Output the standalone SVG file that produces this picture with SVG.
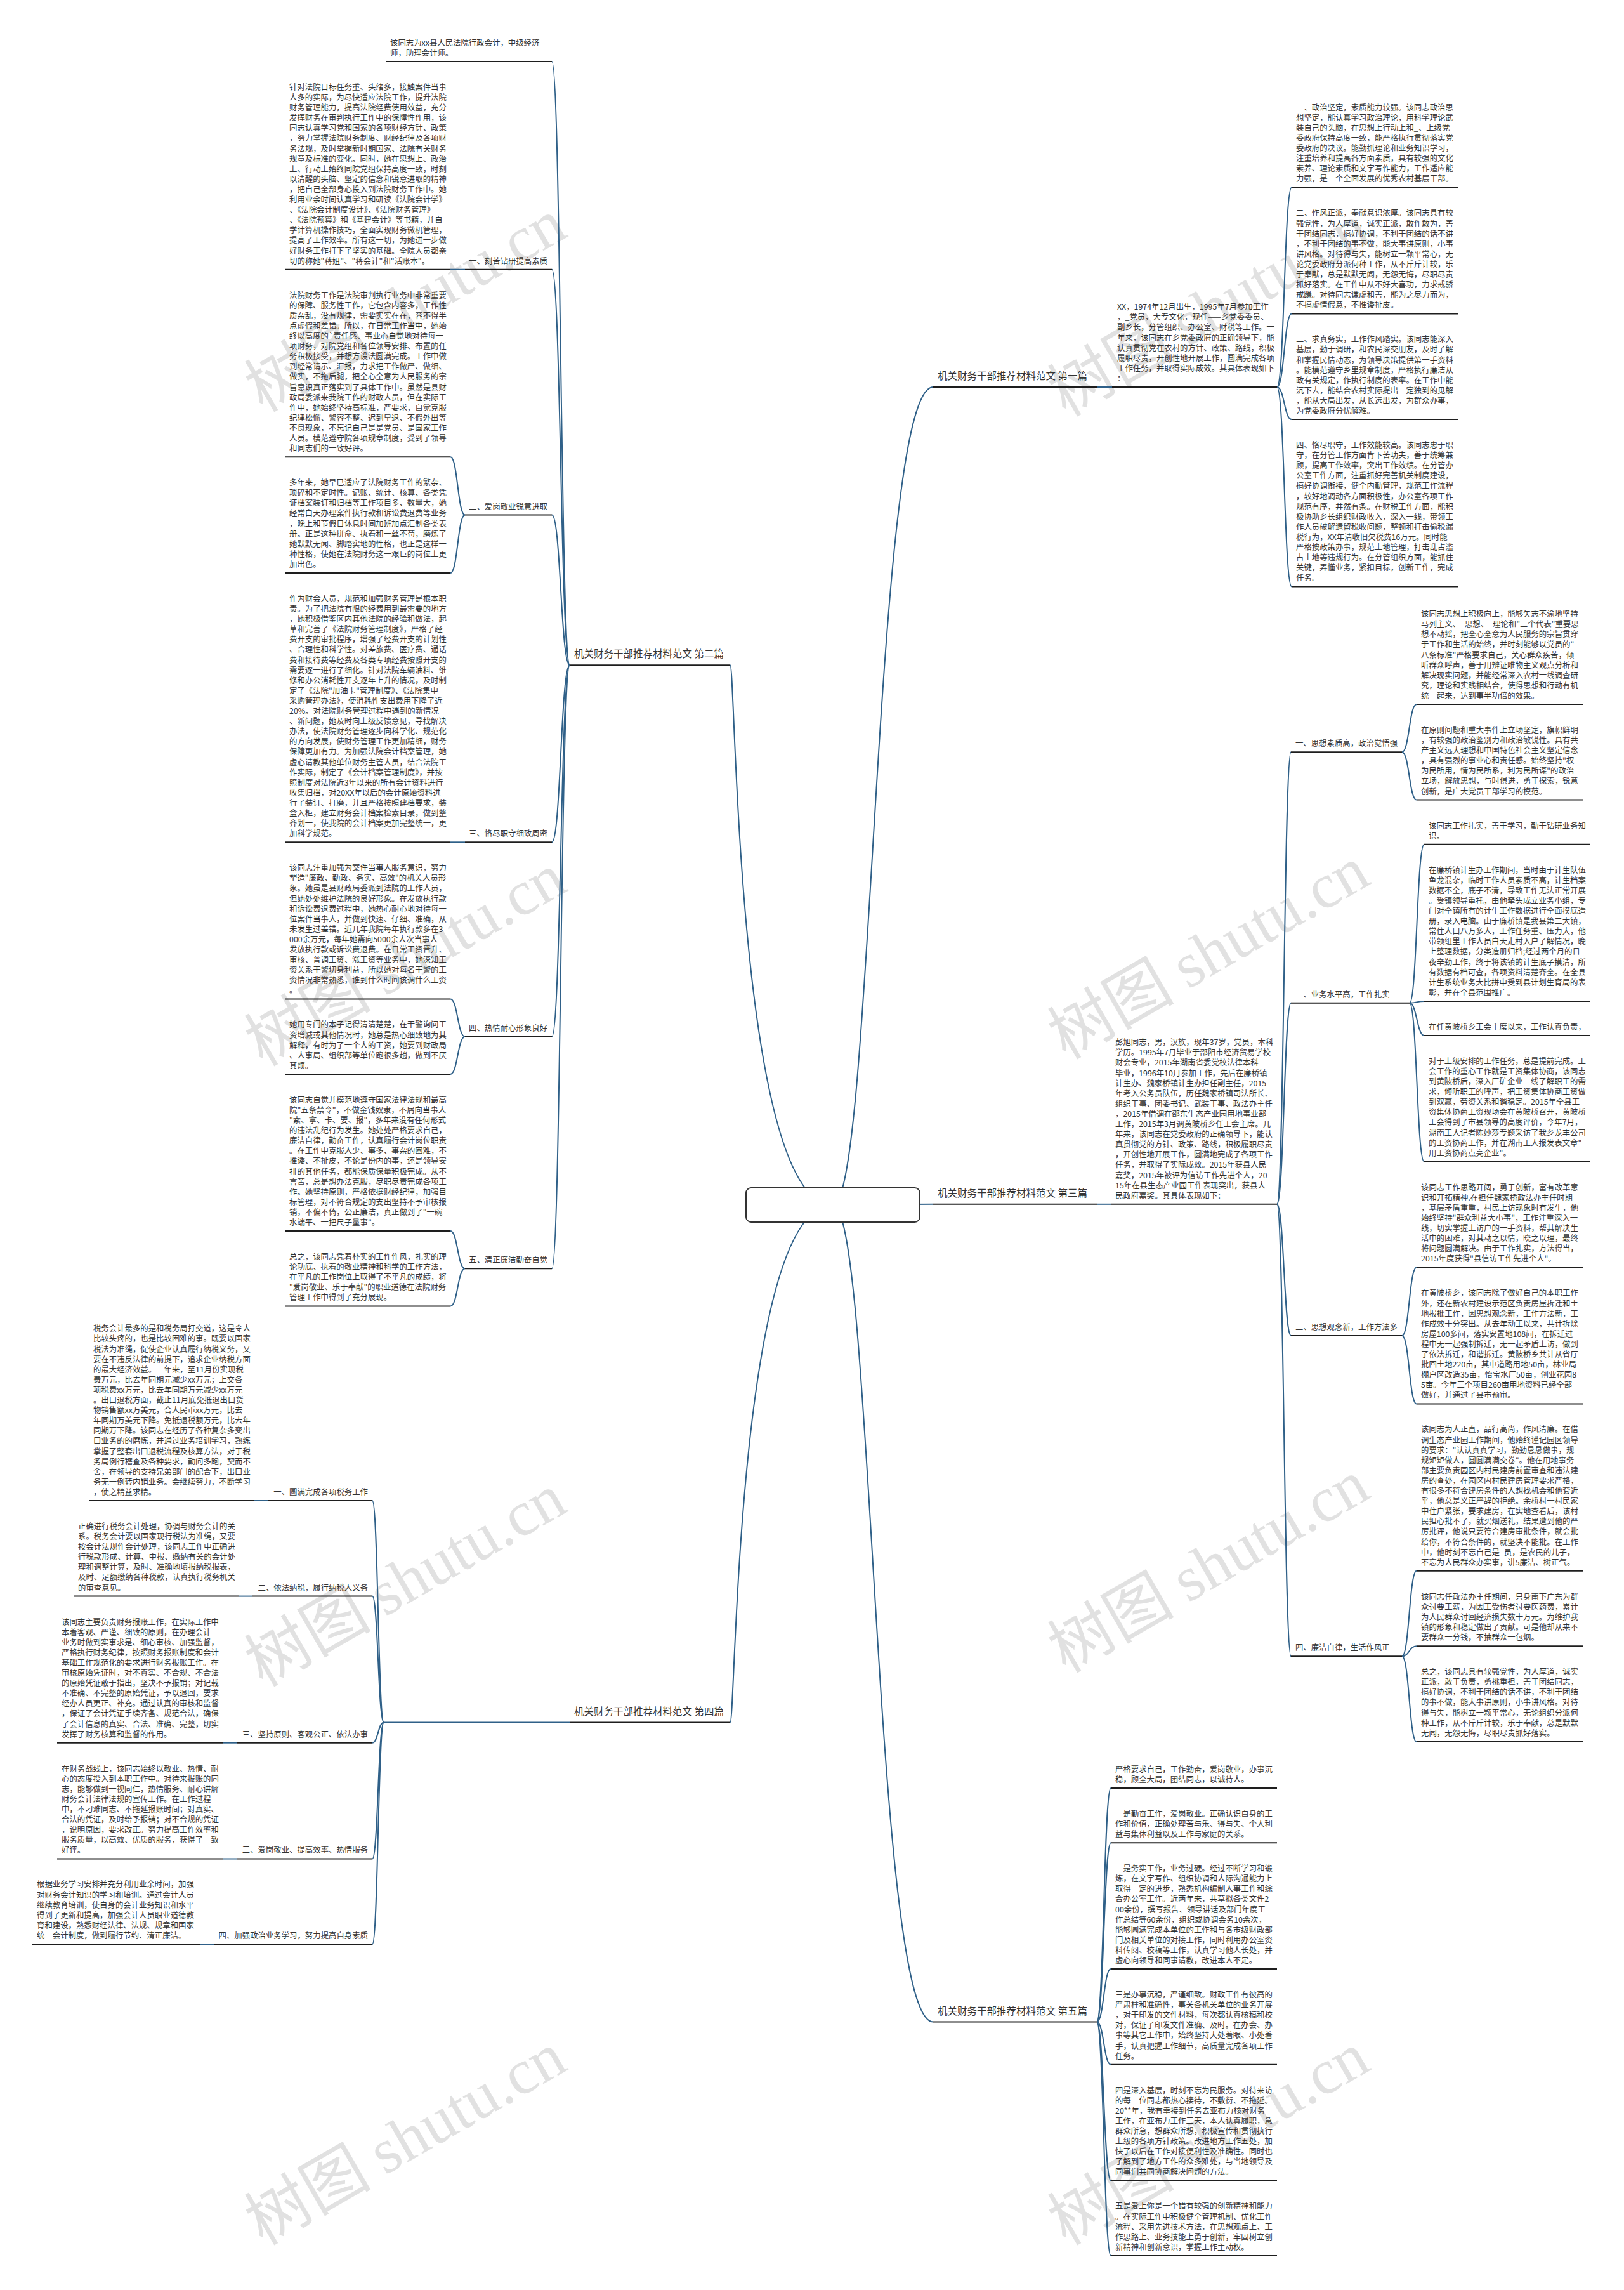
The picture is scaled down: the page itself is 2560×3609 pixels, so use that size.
<svg xmlns="http://www.w3.org/2000/svg" width="2560" height="3609" viewBox="0 0 2560 3609">
<style>
.t{font-family:"Noto Sans CJK SC","Noto Sans",sans-serif;font-size:12.4px;fill:#333}
.ti{font-family:"Noto Sans CJK SC","Noto Sans",sans-serif;font-size:15.5px;fill:#333}
.ul{stroke:#1e1e1e;stroke-width:2;fill:none}
.cn{stroke:#2f6088;stroke-width:2;fill:none}
.wm{font-family:"Noto Sans CJK SC",sans-serif;font-size:100px;fill:#c4c4c4;opacity:.5}
.wm2{font-family:"Liberation Serif",serif}
</style>
<rect width="2560" height="3609" fill="#fff"/>
<g id="watermarks">
<text class="wm" transform="translate(656 511) rotate(-30)" text-anchor="middle">树图 <tspan class="wm2">shutu.cn</tspan></text>
<text class="wm" transform="translate(1922 518) rotate(-30)" text-anchor="middle">树图 <tspan class="wm2">shutu.cn</tspan></text>
<text class="wm" transform="translate(656 1542) rotate(-30)" text-anchor="middle">树图 <tspan class="wm2">shutu.cn</tspan></text>
<text class="wm" transform="translate(1922 1531) rotate(-30)" text-anchor="middle">树图 <tspan class="wm2">shutu.cn</tspan></text>
<text class="wm" transform="translate(656 2520) rotate(-30)" text-anchor="middle">树图 <tspan class="wm2">shutu.cn</tspan></text>
<text class="wm" transform="translate(1922 2498) rotate(-30)" text-anchor="middle">树图 <tspan class="wm2">shutu.cn</tspan></text>
<text class="wm" transform="translate(656 3400) rotate(-30)" text-anchor="middle">树图 <tspan class="wm2">shutu.cn</tspan></text>
<text class="wm" transform="translate(1922 3400) rotate(-30)" text-anchor="middle">树图 <tspan class="wm2">shutu.cn</tspan></text>
</g>
<g id="connectors">
<path class="cn" d="M1313 1899 C1160 1899 1160 1048.2 1151 1048.2"/>
<path class="cn" d="M1313 1899 C1160 1899 1160 2714.5 1151 2714.5"/>
<path class="cn" d="M1313 1899 C1377 1899 1377 610 1471 610"/>
<path class="cn" d="M1313 1899 C1392 1899 1392 1897.8 1471 1897.8"/>
<path class="cn" d="M1313 1899 C1377 1899 1377 3186.5 1471 3186.5"/>
<path class="cn" d="M898 1048.2 C884 1048.2 884 97 870 97"/>
<path class="cn" d="M898 1048.2 C884 1048.2 884 424.7 870 424.7"/>
<path class="cn" d="M898 1048.2 C884 1048.2 884 811.6 870 811.6"/>
<path class="cn" d="M898 1048.2 C884 1048.2 884 1327.3 870 1327.3"/>
<path class="cn" d="M898 1048.2 C884 1048.2 884 1633.7 870 1633.7"/>
<path class="cn" d="M898 1048.2 C884 1048.2 884 1999.3 870 1999.3"/>
<path class="cn" d="M733 424.7 L710 424.7"/>
<path class="cn" d="M733 811.6 C721.5 811.6 721.5 720.2 710 720.2"/>
<path class="cn" d="M733 811.6 C721.5 811.6 721.5 903 710 903"/>
<path class="cn" d="M733 1327.3 L710 1327.3"/>
<path class="cn" d="M733 1633.7 C721.5 1633.7 721.5 1574.5 710 1574.5"/>
<path class="cn" d="M733 1633.7 C721.5 1633.7 721.5 1692.9 710 1692.9"/>
<path class="cn" d="M733 1999.3 C721.5 1999.3 721.5 1940.1 710 1940.1"/>
<path class="cn" d="M733 1999.3 C721.5 1999.3 721.5 2058.5 710 2058.5"/>
<path class="cn" d="M898 2714.5 L605 2714.5"/>
<path class="cn" d="M605 2714.5 C596 2714.5 596 2365 587 2365"/>
<path class="cn" d="M605 2714.5 C596 2714.5 596 2515.6 587 2515.6"/>
<path class="cn" d="M605 2714.5 C596 2714.5 596 2746.7 587 2746.7"/>
<path class="cn" d="M605 2714.5 C596 2714.5 596 2929.5 587 2929.5"/>
<path class="cn" d="M605 2714.5 C596 2714.5 596 3064 587 3064"/>
<path class="cn" d="M423 2365 L400 2365"/>
<path class="cn" d="M398 2515.6 L377 2515.6"/>
<path class="cn" d="M373 2746.7 L352 2746.7"/>
<path class="cn" d="M373 2929.5 L352 2929.5"/>
<path class="cn" d="M337 3064 L315 3064"/>
<path class="cn" d="M1729 610 L1753 610"/>
<path class="cn" d="M2013 610 C2024.5 610 2024.5 295.5 2036 295.5"/>
<path class="cn" d="M2013 610 C2024.5 610 2024.5 494.4 2036 494.4"/>
<path class="cn" d="M2013 610 C2024.5 610 2024.5 661.1 2036 661.1"/>
<path class="cn" d="M2013 610 C2024.5 610 2024.5 924.4 2036 924.4"/>
<path class="cn" d="M1729 1897.8 L1751 1897.8"/>
<path class="cn" d="M2013 1897.8 C2024 1897.8 2024 1185.3 2035 1185.3"/>
<path class="cn" d="M2013 1897.8 C2024 1897.8 2024 1580.8 2035 1580.8"/>
<path class="cn" d="M2013 1897.8 C2024 1897.8 2024 2105 2035 2105"/>
<path class="cn" d="M2013 1897.8 C2024 1897.8 2024 2610.3 2035 2610.3"/>
<path class="cn" d="M2210 1185.3 C2221.5 1185.3 2221.5 1110 2233 1110"/>
<path class="cn" d="M2210 1185.3 C2221.5 1185.3 2221.5 1260.6 2233 1260.6"/>
<path class="cn" d="M2222 1580.8 C2233.5 1580.8 2233.5 1330.7 2245 1330.7"/>
<path class="cn" d="M2222 1580.8 C2233.5 1580.8 2233.5 1577.9 2245 1577.9"/>
<path class="cn" d="M2222 1580.8 C2233.5 1580.8 2233.5 1631.9 2245 1631.9"/>
<path class="cn" d="M2222 1580.8 C2233.5 1580.8 2233.5 1830.8 2245 1830.8"/>
<path class="cn" d="M2210 2105 C2221.5 2105 2221.5 1997.5 2233 1997.5"/>
<path class="cn" d="M2210 2105 C2221.5 2105 2221.5 2212.5 2233 2212.5"/>
<path class="cn" d="M2210 2610.3 C2221.5 2610.3 2221.5 2475.8 2233 2475.8"/>
<path class="cn" d="M2210 2610.3 C2221.5 2610.3 2221.5 2594.2 2233 2594.2"/>
<path class="cn" d="M2210 2610.3 C2221.5 2610.3 2221.5 2744.8 2233 2744.8"/>
<path class="cn" d="M1729 3186.5 C1740 3186.5 1740 2818 1751 2818"/>
<path class="cn" d="M1729 3186.5 C1740 3186.5 1740 2904.2 1751 2904.2"/>
<path class="cn" d="M1729 3186.5 C1740 3186.5 1740 3103.1 1751 3103.1"/>
<path class="cn" d="M1729 3186.5 C1740 3186.5 1740 3253.7 1751 3253.7"/>
<path class="cn" d="M1729 3186.5 C1740 3186.5 1740 3436.5 1751 3436.5"/>
<path class="cn" d="M1729 3186.5 C1740 3186.5 1740 3554.9 1751 3554.9"/>
</g>
<g id="root">
<rect x="1176" y="1872" width="274" height="54" rx="8" fill="#fff" stroke="#333" stroke-width="2"/>
</g>
<g id="t2">
<text class="ti" x="905" y="1036">机关财务干部推荐材料范文 第二篇</text>
<line class="ul" x1="898" y1="1048.2" x2="1151" y2="1048.2"/>
</g>
<g id="t2-top">
<text class="t" x="615" y="71.8"><tspan x="615">该同志为xx县人民法院行政会计，中级经济</tspan><tspan x="615" dy="16.1">师，助理会计师。</tspan></text>
<line class="ul" x1="608" y1="97" x2="870" y2="97"/>
</g>
<g id="t2-l1">
<text class="t" x="863" y="415.6" text-anchor="end">一、刻苦钻研提高素质</text>
<line class="ul" x1="733" y1="424.7" x2="870" y2="424.7"/>
</g>
<g id="t2-a">
<text class="t" x="456" y="141.9"><tspan x="456">针对法院目标任务重、头绪多，接触案件当事</tspan><tspan x="456" dy="16.1">人多的实际，为尽快适应法院工作，提升法院</tspan><tspan x="456" dy="16.1">财务管理能力，提高法院经费使用效益，充分</tspan><tspan x="456" dy="16.1">发挥财务在审判执行工作中的保障性作用，该</tspan><tspan x="456" dy="16.1">同志认真学习党和国家的各项财经方针、政策</tspan><tspan x="456" dy="16.1">，努力掌握法院财务制度、财经纪律及各项财</tspan><tspan x="456" dy="16.1">务法规，及时掌握新时期国家、法院有关财务</tspan><tspan x="456" dy="16.1">规章及标准的变化。同时，她在思想上、政治</tspan><tspan x="456" dy="16.1">上、行动上始终同院党组保持高度一致，时刻</tspan><tspan x="456" dy="16.1">以清醒的头脑、坚定的信念和锐意进取的精神</tspan><tspan x="456" dy="16.1">，把自己全部身心投入到法院财务工作中。她</tspan><tspan x="456" dy="16.1">利用业余时间认真学习和研读《法院会计学》</tspan><tspan x="456" dy="16.1">、《法院会计制度设计》、《法院财务管理》</tspan><tspan x="456" dy="16.1">、《法院预算》和《基建会计》等书籍，并自</tspan><tspan x="456" dy="16.1">学计算机操作技巧，全面实现财务微机管理，</tspan><tspan x="456" dy="16.1">提高了工作效率。所有这一切，为她进一步做</tspan><tspan x="456" dy="16.1">好财务工作打下了坚实的基础。全院人员都亲</tspan><tspan x="456" dy="16.1">切的称她"蒋姐"、"蒋会计"和"活账本"。</tspan></text>
<line class="ul" x1="449" y1="424.7" x2="710" y2="424.7"/>
</g>
<g id="t2-l2">
<text class="t" x="863" y="802.5" text-anchor="end">二、爱岗敬业锐意进取</text>
<line class="ul" x1="733" y1="811.6" x2="870" y2="811.6"/>
</g>
<g id="t2-b">
<text class="t" x="456" y="469.6"><tspan x="456">法院财务工作是法院审判执行业务中非常重要</tspan><tspan x="456" dy="16.1">的保障、服务性工作，它包含内容多，工作性</tspan><tspan x="456" dy="16.1">质杂乱，没有规律，需要实实在在，容不得半</tspan><tspan x="456" dy="16.1">点虚假和差错。所以，在日常工作当中，她始</tspan><tspan x="456" dy="16.1">终以高度的`责任感、事业心自觉地对待每一</tspan><tspan x="456" dy="16.1">项财务，对院党组和各位领导安排、布置的任</tspan><tspan x="456" dy="16.1">务积极接受，并想方设法圆满完成。工作中做</tspan><tspan x="456" dy="16.1">到经常请示、汇报，力求把工作做严、做细、</tspan><tspan x="456" dy="16.1">做实，不拖后腿，把全心全意为人民服务的宗</tspan><tspan x="456" dy="16.1">旨意识真正落实到了具体工作中。虽然是县财</tspan><tspan x="456" dy="16.1">政局委派来我院工作的财政人员，但在实际工</tspan><tspan x="456" dy="16.1">作中，她始终坚持高标准，严要求，自觉克服</tspan><tspan x="456" dy="16.1">纪律松懈、警容不整、迟到早退、不假外出等</tspan><tspan x="456" dy="16.1">不良现象，不忘记自己是是党员、是国家工作</tspan><tspan x="456" dy="16.1">人员。模范遵守院各项规章制度，受到了领导</tspan><tspan x="456" dy="16.1">和同志们的一致好评。</tspan></text>
<line class="ul" x1="449" y1="720.2" x2="710" y2="720.2"/>
</g>
<g id="t2-c">
<text class="t" x="456" y="765.1"><tspan x="456">多年来，她早已适应了法院财务工作的繁杂、</tspan><tspan x="456" dy="16.1">琐碎和不定时性。记账、统计、核算、各类凭</tspan><tspan x="456" dy="16.1">证档案装订和归档等工作项目多、数量大，她</tspan><tspan x="456" dy="16.1">经常白天办理案件执行款和诉讼费退费等业务</tspan><tspan x="456" dy="16.1">，晚上和节假日休息时间加班加点汇制各类表</tspan><tspan x="456" dy="16.1">册。正是这种拼命、执着和一丝不苟，磨炼了</tspan><tspan x="456" dy="16.1">她默默无闻、脚踏实地的性格，也正是这样一</tspan><tspan x="456" dy="16.1">种性格，使她在法院财务这一艰巨的岗位上更</tspan><tspan x="456" dy="16.1">加出色。</tspan></text>
<line class="ul" x1="449" y1="903" x2="710" y2="903"/>
</g>
<g id="t2-l3">
<text class="t" x="863" y="1318.2" text-anchor="end">三、恪尽职守细致周密</text>
<line class="ul" x1="733" y1="1327.3" x2="870" y2="1327.3"/>
</g>
<g id="t2-d">
<text class="t" x="456" y="947.9"><tspan x="456">作为财会人员，规范和加强财务管理是根本职</tspan><tspan x="456" dy="16.1">责。为了把法院有限的经费用到最需要的地方</tspan><tspan x="456" dy="16.1">，她积极借鉴区内其他法院的经验和做法，起</tspan><tspan x="456" dy="16.1">草和完善了《法院财务管理制度》，严格了经</tspan><tspan x="456" dy="16.1">费开支的审批程序，增强了经费开支的计划性</tspan><tspan x="456" dy="16.1">、合理性和科学性。对差旅费、医疗费、通话</tspan><tspan x="456" dy="16.1">费和接待费等经费及各类专项经费按照开支的</tspan><tspan x="456" dy="16.1">需要逐一进行了细化。针对法院车辆油料、维</tspan><tspan x="456" dy="16.1">修和办公消耗性开支逐年上升的情况，及时制</tspan><tspan x="456" dy="16.1">定了《法院"加油卡"管理制度》、《法院集中</tspan><tspan x="456" dy="16.1">采购管理办法》，使消耗性支出费用下降了近</tspan><tspan x="456" dy="16.1">20%。对法院财务管理过程中遇到的新情况</tspan><tspan x="456" dy="16.1">、新问题，她及时向上级反馈意见，寻找解决</tspan><tspan x="456" dy="16.1">办法，使法院财务管理逐步向科学化、规范化</tspan><tspan x="456" dy="16.1">的方向发展，使财务管理工作更加精细，财务</tspan><tspan x="456" dy="16.1">保障更加有力。为加强法院会计档案管理，她</tspan><tspan x="456" dy="16.1">虚心请教其他单位财务主管人员，结合法院工</tspan><tspan x="456" dy="16.1">作实际，制定了《会计档案管理制度》，并按</tspan><tspan x="456" dy="16.1">照制度对法院近3年以来的所有会计资料进行</tspan><tspan x="456" dy="16.1">收集归档，对20XX年以后的会计原始资料进</tspan><tspan x="456" dy="16.1">行了装订、打磨，并且严格按照建档要求，装</tspan><tspan x="456" dy="16.1">盒入柜，建立财务会计档案检索目录，做到整</tspan><tspan x="456" dy="16.1">齐划一，使我院的会计档案更加完整统一，更</tspan><tspan x="456" dy="16.1">加科学规范。</tspan></text>
<line class="ul" x1="449" y1="1327.3" x2="710" y2="1327.3"/>
</g>
<g id="t2-l4">
<text class="t" x="863" y="1624.6" text-anchor="end">四、热情耐心形象良好</text>
<line class="ul" x1="733" y1="1633.7" x2="870" y2="1633.7"/>
</g>
<g id="t2-e">
<text class="t" x="456" y="1372.2"><tspan x="456">该同志注重加强为案件当事人服务意识，努力</tspan><tspan x="456" dy="16.1">塑造"廉政、勤政、务实、高效"的机关人员形</tspan><tspan x="456" dy="16.1">象。她虽是县财政局委派到法院的工作人员，</tspan><tspan x="456" dy="16.1">但她处处维护法院的良好形象。在发放执行款</tspan><tspan x="456" dy="16.1">和诉讼费退费过程中，她热心耐心地对待每一</tspan><tspan x="456" dy="16.1">位案件当事人，并做到快速、仔细、准确，从</tspan><tspan x="456" dy="16.1">未发生过差错。近几年我院每年执行款多在3</tspan><tspan x="456" dy="16.1">000余万元，每年她需向5000余人次当事人</tspan><tspan x="456" dy="16.1">发放执行款或诉讼费退费。在日常工资晋升、</tspan><tspan x="456" dy="16.1">审核、普调工资、涨工资等业务中，她深知工</tspan><tspan x="456" dy="16.1">资关系干警切身利益，所以她对每名干警的工</tspan><tspan x="456" dy="16.1">资情况非常熟悉，谁到什么时间该调什么工资</tspan><tspan x="456" dy="16.1">。</tspan></text>
<line class="ul" x1="449" y1="1574.5" x2="710" y2="1574.5"/>
</g>
<g id="t2-f">
<text class="t" x="456" y="1619.4"><tspan x="456">她用专门的本子记得清清楚楚，在干警询问工</tspan><tspan x="456" dy="16.1">资增减或其他情况时，她总是热心细致地为其</tspan><tspan x="456" dy="16.1">解释，有时为了一个人的工资，她要到财政局</tspan><tspan x="456" dy="16.1">、人事局、组织部等单位跑很多趟，做到不厌</tspan><tspan x="456" dy="16.1">其烦。</tspan></text>
<line class="ul" x1="449" y1="1692.9" x2="710" y2="1692.9"/>
</g>
<g id="t2-l5">
<text class="t" x="863" y="1990.2" text-anchor="end">五、清正廉洁勤奋自觉</text>
<line class="ul" x1="733" y1="1999.3" x2="870" y2="1999.3"/>
</g>
<g id="t2-g">
<text class="t" x="456" y="1737.8"><tspan x="456">该同志自觉并模范地遵守国家法律法规和最高</tspan><tspan x="456" dy="16.1">院"五条禁令"，不做金钱奴隶，不屑向当事人</tspan><tspan x="456" dy="16.1">"索、拿、卡、要、报"，多年来没有任何形式</tspan><tspan x="456" dy="16.1">的违法乱纪行为发生。她处处严格要求自己，</tspan><tspan x="456" dy="16.1">廉洁自律，勤奋工作，认真履行会计岗位职责</tspan><tspan x="456" dy="16.1">。在工作中克服人少、事多、事杂的困难，不</tspan><tspan x="456" dy="16.1">推诿、不扯皮，不论是份内的事，还是领导安</tspan><tspan x="456" dy="16.1">排的其他任务，都能保质保量积极完成。从不</tspan><tspan x="456" dy="16.1">言苦，总是想办法克服，尽职尽责完成各项工</tspan><tspan x="456" dy="16.1">作。她坚持原则，严格依据财经纪律，加强目</tspan><tspan x="456" dy="16.1">标管理，对不符合规定的支出坚持不予审核报</tspan><tspan x="456" dy="16.1">销，不偏不倚，公正廉洁，真正做到了"一碗</tspan><tspan x="456" dy="16.1">水端平、一把尺子量事"。</tspan></text>
<line class="ul" x1="449" y1="1940.1" x2="710" y2="1940.1"/>
</g>
<g id="t2-h">
<text class="t" x="456" y="1985"><tspan x="456">总之，该同志凭着朴实的工作作风，扎实的理</tspan><tspan x="456" dy="16.1">论功底、执着的敬业精神和科学的工作方法，</tspan><tspan x="456" dy="16.1">在平凡的工作岗位上取得了不平凡的成绩，将</tspan><tspan x="456" dy="16.1">"爱岗敬业、乐于奉献"的职业道德在法院财务</tspan><tspan x="456" dy="16.1">管理工作中得到了充分展现。</tspan></text>
<line class="ul" x1="449" y1="2058.5" x2="710" y2="2058.5"/>
</g>
<g id="t4">
<text class="ti" x="905" y="2702.5">机关财务干部推荐材料范文 第四篇</text>
<line class="ul" x1="898" y1="2714.5" x2="1151" y2="2714.5"/>
</g>
<g id="t4-l1">
<text class="t" x="580" y="2355.9" text-anchor="end">一、圆满完成各项税务工作</text>
<line class="ul" x1="423" y1="2365" x2="587" y2="2365"/>
</g>
<g id="t4-i">
<text class="t" x="147" y="2098.3"><tspan x="147">税务会计最多的是和税务局打交道，这是令人</tspan><tspan x="147" dy="16.1">比较头疼的，也是比较困难的事。既要以国家</tspan><tspan x="147" dy="16.1">税法为准绳，促使企业认真履行纳税义务，又</tspan><tspan x="147" dy="16.1">要在不违反法律的前提下，追求企业纳税方面</tspan><tspan x="147" dy="16.1">的最大经济效益。一年来，至11月份实现税</tspan><tspan x="147" dy="16.1">费万元，比去年同期元减少xx万元；上交各</tspan><tspan x="147" dy="16.1">项税费xx万元，比去年同期万元减少xx万元</tspan><tspan x="147" dy="16.1">。出口退税方面，截止11月底免抵退出口货</tspan><tspan x="147" dy="16.1">物销售额xx万美元，合人民币xx万元，比去</tspan><tspan x="147" dy="16.1">年同期万美元下降。免抵退税额万元，比去年</tspan><tspan x="147" dy="16.1">同期万下降。该同志在经历了各种复杂多变出</tspan><tspan x="147" dy="16.1">口业务的的磨炼，并通过业务培训学习，熟练</tspan><tspan x="147" dy="16.1">掌握了整套出口退税流程及核算方法，对于税</tspan><tspan x="147" dy="16.1">务局例行稽查及各种要求，勤问多跑，契而不</tspan><tspan x="147" dy="16.1">舍，在领导的支持兄弟部门的配合下，出口业</tspan><tspan x="147" dy="16.1">务无一例转内销业务。会继续努力，不断学习</tspan><tspan x="147" dy="16.1">，使之精益求精。</tspan></text>
<line class="ul" x1="140" y1="2365" x2="400" y2="2365"/>
</g>
<g id="t4-l2">
<text class="t" x="580" y="2506.5" text-anchor="end">二、依法纳税，履行纳税人义务</text>
<line class="ul" x1="398" y1="2515.6" x2="587" y2="2515.6"/>
</g>
<g id="t4-j">
<text class="t" x="123" y="2409.9"><tspan x="123">正确进行税务会计处理，协调与财务会计的关</tspan><tspan x="123" dy="16.1">系。税务会计要以国家现行税法为准绳，又要</tspan><tspan x="123" dy="16.1">按会计法规作会计处理，该同志工作中正确进</tspan><tspan x="123" dy="16.1">行税款形成、计算、申报、缴纳有关的会计处</tspan><tspan x="123" dy="16.1">理和调整计算，及时、准确地填报纳税报表，</tspan><tspan x="123" dy="16.1">及时、足额缴纳各种税款，认真执行税务机关</tspan><tspan x="123" dy="16.1">的审查意见。</tspan></text>
<line class="ul" x1="116" y1="2515.6" x2="377" y2="2515.6"/>
</g>
<g id="t4-l3">
<text class="t" x="580" y="2737.6" text-anchor="end">三、坚持原则、客观公正、依法办事</text>
<line class="ul" x1="373" y1="2746.7" x2="587" y2="2746.7"/>
</g>
<g id="t4-k">
<text class="t" x="97" y="2560.5"><tspan x="97">该同志主要负责财务报账工作，在实际工作中</tspan><tspan x="97" dy="16.1">本着客观、严谨、细致的原则，在办理会计</tspan><tspan x="97" dy="16.1">业务时做到实事求是、细心审核、加强监督，</tspan><tspan x="97" dy="16.1">严格执行财务纪律，按照财务报账制度和会计</tspan><tspan x="97" dy="16.1">基础工作规范化的要求进行财务报账工作。在</tspan><tspan x="97" dy="16.1">审核原始凭证时，对不真实、不合规、不合法</tspan><tspan x="97" dy="16.1">的原始凭证敢于指出，坚决不予报销；对记载</tspan><tspan x="97" dy="16.1">不准确、不完整的原始凭证，予以退回，要求</tspan><tspan x="97" dy="16.1">经办人员更正、补充。通过认真的审核和监督</tspan><tspan x="97" dy="16.1">，保证了会计凭证手续齐备、规范合法，确保</tspan><tspan x="97" dy="16.1">了会计信息的真实、合法、准确、完整，切实</tspan><tspan x="97" dy="16.1">发挥了财务核算和监督的作用。</tspan></text>
<line class="ul" x1="90" y1="2746.7" x2="352" y2="2746.7"/>
</g>
<g id="t4-l4">
<text class="t" x="580" y="2920.4" text-anchor="end">三、爱岗敬业、提高效率、热情服务</text>
<line class="ul" x1="373" y1="2929.5" x2="587" y2="2929.5"/>
</g>
<g id="t4-l">
<text class="t" x="97" y="2791.6"><tspan x="97">在财务战线上，该同志始终以敬业、热情、耐</tspan><tspan x="97" dy="16.1">心的态度投入到本职工作中。对待来报账的同</tspan><tspan x="97" dy="16.1">志，能够做到一视同仁，热情服务、耐心讲解</tspan><tspan x="97" dy="16.1">财务会计法律法规的宣传工作。在工作过程</tspan><tspan x="97" dy="16.1">中，不刁难同志、不拖延报账时间；对真实、</tspan><tspan x="97" dy="16.1">合法的凭证，及时给予报销；对不合规的凭证</tspan><tspan x="97" dy="16.1">，说明原因，要求改正。努力提高工作效率和</tspan><tspan x="97" dy="16.1">服务质量，以高效、优质的服务，获得了一致</tspan><tspan x="97" dy="16.1">好评。</tspan></text>
<line class="ul" x1="90" y1="2929.5" x2="352" y2="2929.5"/>
</g>
<g id="t4-l5">
<text class="t" x="580" y="3054.9" text-anchor="end">四、加强政治业务学习，努力提高自身素质</text>
<line class="ul" x1="337" y1="3064" x2="587" y2="3064"/>
</g>
<g id="t4-m">
<text class="t" x="58" y="2974.4"><tspan x="58">根据业务学习安排并充分利用业余时间，加强</tspan><tspan x="58" dy="16.1">对财务会计知识的学习和培训。通过会计人员</tspan><tspan x="58" dy="16.1">继续教育培训，使自身的会计业务知识和水平</tspan><tspan x="58" dy="16.1">得到了更新和提高，加强会计人员职业道德教</tspan><tspan x="58" dy="16.1">育和建设，熟悉财经法律、法规、规章和国家</tspan><tspan x="58" dy="16.1">统一会计制度，做到履行节约、清正廉洁。</tspan></text>
<line class="ul" x1="51" y1="3064" x2="315" y2="3064"/>
</g>
<g id="t1">
<text class="ti" x="1478" y="598">机关财务干部推荐材料范文 第一篇</text>
<line class="ul" x1="1471" y1="610" x2="1729" y2="610"/>
</g>
<g id="t1-intro">
<text class="t" x="1761" y="488.2"><tspan x="1761">XX，1974年12月出生，1995年7月参加工作</tspan><tspan x="1761" dy="16.1">，_党员，大专文化，现任——乡党委委员、</tspan><tspan x="1761" dy="16.1">副乡长，分管组织、办公室、财税等工作。一</tspan><tspan x="1761" dy="16.1">年来，该同志在乡党委政府的正确领导下，能</tspan><tspan x="1761" dy="16.1">认真贯彻党在农村的方针、政策、路线，积极</tspan><tspan x="1761" dy="16.1">履职尽责，开创性地开展工作，圆满完成各项</tspan><tspan x="1761" dy="16.1">工作任务，并取得实际成效。其具体表现如下</tspan><tspan x="1761" dy="16.1">：</tspan></text>
<line class="ul" x1="1753" y1="610" x2="2013" y2="610"/>
</g>
<g id="t1-r1">
<text class="t" x="2043" y="173.7"><tspan x="2043">一、政治坚定，素质能力较强。该同志政治思</tspan><tspan x="2043" dy="16.1">想坚定，能认真学习政治理论，用科学理论武</tspan><tspan x="2043" dy="16.1">装自己的头脑，在思想上行动上和_、上级党</tspan><tspan x="2043" dy="16.1">委政府保持高度一致，能严格执行贯彻落实党</tspan><tspan x="2043" dy="16.1">委政府的决议。能勤抓理论和业务知识学习，</tspan><tspan x="2043" dy="16.1">注重培养和提高各方面素质，具有较强的文化</tspan><tspan x="2043" dy="16.1">素养、理论素质和文字写作能力，工作适应能</tspan><tspan x="2043" dy="16.1">力强，是一个全面发展的优秀农村基层干部。</tspan></text>
<line class="ul" x1="2036" y1="295.5" x2="2298" y2="295.5"/>
</g>
<g id="t1-r2">
<text class="t" x="2043" y="340.4"><tspan x="2043">二、作风正派，奉献意识浓厚。该同志具有较</tspan><tspan x="2043" dy="16.1">强党性，为人厚道，诚实正派，敢作敢为，善</tspan><tspan x="2043" dy="16.1">于团结同志，搞好协调，不利于团结的话不讲</tspan><tspan x="2043" dy="16.1">，不利于团结的事不做，能大事讲原则，小事</tspan><tspan x="2043" dy="16.1">讲风格。对待得与失，能树立一颗平常心，无</tspan><tspan x="2043" dy="16.1">论党委政府分派何种工作，从不斤斤计较，乐</tspan><tspan x="2043" dy="16.1">于奉献，总是默默无闻，无怨无悔，尽职尽责</tspan><tspan x="2043" dy="16.1">抓好落实。在工作中从不好大喜功，力求戒骄</tspan><tspan x="2043" dy="16.1">戒躁。对待同志谦虚和善，能为之尽力而为，</tspan><tspan x="2043" dy="16.1">不搞虚情假意，不推诿扯皮。</tspan></text>
<line class="ul" x1="2036" y1="494.4" x2="2298" y2="494.4"/>
</g>
<g id="t1-r3">
<text class="t" x="2043" y="539.3"><tspan x="2043">三、求真务实，工作作风踏实。该同志能深入</tspan><tspan x="2043" dy="16.1">基层，勤于调研，和农民深交朋友，及时了解</tspan><tspan x="2043" dy="16.1">和掌握民情动态，为领导决策提供第一手资料</tspan><tspan x="2043" dy="16.1">。能模范遵守乡里规章制度，严格执行廉洁从</tspan><tspan x="2043" dy="16.1">政有关规定，作执行制度的表率。在工作中能</tspan><tspan x="2043" dy="16.1">沉下去，能结合农村实际提出一定独到的见解</tspan><tspan x="2043" dy="16.1">，能从大局出发，从长远出发，为群众办事，</tspan><tspan x="2043" dy="16.1">为党委政府分忧解难。</tspan></text>
<line class="ul" x1="2036" y1="661.1" x2="2298" y2="661.1"/>
</g>
<g id="t1-r4">
<text class="t" x="2043" y="706"><tspan x="2043">四、恪尽职守，工作效能较高。该同志忠于职</tspan><tspan x="2043" dy="16.1">守，在分管工作方面肯下苦功夫，善于统筹兼</tspan><tspan x="2043" dy="16.1">顾，提高工作效率，突出工作效绩。在分管办</tspan><tspan x="2043" dy="16.1">公室工作方面，注重抓好完善机关制度建设，</tspan><tspan x="2043" dy="16.1">搞好协调衔接，健全内勤管理，规范工作流程</tspan><tspan x="2043" dy="16.1">，较好地调动各方面积极性，办公室各项工作</tspan><tspan x="2043" dy="16.1">规范有序，井然有条。在财税工作方面，能积</tspan><tspan x="2043" dy="16.1">极协助乡长组织财政收入，深入一线，带领工</tspan><tspan x="2043" dy="16.1">作人员破解遗留税收问题，整顿和打击偷税漏</tspan><tspan x="2043" dy="16.1">税行为，XX年清收旧欠税费16万元。同时能</tspan><tspan x="2043" dy="16.1">严格按政策办事，规范土地管理，打击乱占滥</tspan><tspan x="2043" dy="16.1">占土地等违规行为。在分管组织方面，能抓住</tspan><tspan x="2043" dy="16.1">关键，弄懂业务，紧扣目标，创新工作，完成</tspan><tspan x="2043" dy="16.1">任务.</tspan></text>
<line class="ul" x1="2036" y1="924.4" x2="2298" y2="924.4"/>
</g>
<g id="t3">
<text class="ti" x="1478" y="1885.8">机关财务干部推荐材料范文 第三篇</text>
<line class="ul" x1="1471" y1="1897.8" x2="1729" y2="1897.8"/>
</g>
<g id="t3-main">
<text class="t" x="1758" y="1647.2"><tspan x="1758">彭旭同志，男，汉族，现年37岁，党员，本科</tspan><tspan x="1758" dy="16.1">学历。1995年7月毕业于邵阳市经济贸易学校</tspan><tspan x="1758" dy="16.1">财会专业，2015年湖南省委党校法律本科</tspan><tspan x="1758" dy="16.1">毕业，1996年10月参加工作，先后在廉桥镇</tspan><tspan x="1758" dy="16.1">计生办、魏家桥镇计生办担任副主任，2015</tspan><tspan x="1758" dy="16.1">年考入公务员队伍，历任魏家桥镇司法所长、</tspan><tspan x="1758" dy="16.1">组织干事、团委书记、武装干事、政法办主任</tspan><tspan x="1758" dy="16.1">，2015年借调在邵东生态产业园用地事业部</tspan><tspan x="1758" dy="16.1">工作，2015年3月调黄陂桥乡任工会主席。几</tspan><tspan x="1758" dy="16.1">年来，该同志在党委政府的正确领导下，能认</tspan><tspan x="1758" dy="16.1">真贯彻党的方针、政策、路线，积极履职尽责</tspan><tspan x="1758" dy="16.1">，开创性地开展工作，圆满地完成了各项工作</tspan><tspan x="1758" dy="16.1">任务，并取得了实际成效。2015年获县人民</tspan><tspan x="1758" dy="16.1">嘉奖，2015年被评为信访工作先进个人，20</tspan><tspan x="1758" dy="16.1">15年在县生态产业园工作表现突出，获县人</tspan><tspan x="1758" dy="16.1">民政府嘉奖。其具体表现如下：</tspan></text>
<line class="ul" x1="1751" y1="1897.8" x2="2013" y2="1897.8"/>
</g>
<g id="t3-l1">
<text class="t" x="2042" y="1176.2">一、思想素质高，政治觉悟强</text>
<line class="ul" x1="2035" y1="1185.3" x2="2210" y2="1185.3"/>
</g>
<g id="t3-s1">
<text class="t" x="2240" y="972.1"><tspan x="2240">该同志思想上积极向上，能够矢志不渝地坚持</tspan><tspan x="2240" dy="16.1">马列主义、_思想、_理论和"三个代表"重要思</tspan><tspan x="2240" dy="16.1">想不动摇，把全心全意为人民服务的宗旨贯穿</tspan><tspan x="2240" dy="16.1">于工作和生活的始终，并时刻能够以党员的"</tspan><tspan x="2240" dy="16.1">八条标准"严格要求自己，关心群众疾苦，倾</tspan><tspan x="2240" dy="16.1">听群众呼声，善于用辨证唯物主义观点分析和</tspan><tspan x="2240" dy="16.1">解决现实问题，并能经常深入农村一线调查研</tspan><tspan x="2240" dy="16.1">究，理论和实践相结合，使得思想和行动有机</tspan><tspan x="2240" dy="16.1">统一起来，达到事半功倍的效果。</tspan></text>
<line class="ul" x1="2233" y1="1110" x2="2495" y2="1110"/>
</g>
<g id="t3-s2">
<text class="t" x="2240" y="1154.9"><tspan x="2240">在原则问题和重大事件上立场坚定，旗帜鲜明</tspan><tspan x="2240" dy="16.1">，有较强的政治鉴别力和政治敏锐性。具有共</tspan><tspan x="2240" dy="16.1">产主义远大理想和中国特色社会主义坚定信念</tspan><tspan x="2240" dy="16.1">，具有强烈的事业心和责任感。始终坚持"权</tspan><tspan x="2240" dy="16.1">为民所用，情为民所系，利为民所谋"的政治</tspan><tspan x="2240" dy="16.1">立场，解放思想，与时俱进，勇于探索，锐意</tspan><tspan x="2240" dy="16.1">创新，是广大党员干部学习的模范。</tspan></text>
<line class="ul" x1="2233" y1="1260.6" x2="2495" y2="1260.6"/>
</g>
<g id="t3-l2">
<text class="t" x="2042" y="1571.7">二、业务水平高，工作扎实</text>
<line class="ul" x1="2035" y1="1580.8" x2="2222" y2="1580.8"/>
</g>
<g id="t3-s3">
<text class="t" x="2252" y="1305.5"><tspan x="2252">该同志工作扎实，善于学习，勤于钻研业务知</tspan><tspan x="2252" dy="16.1">识。</tspan></text>
<line class="ul" x1="2245" y1="1330.7" x2="2507" y2="1330.7"/>
</g>
<g id="t3-s4">
<text class="t" x="2252" y="1375.6"><tspan x="2252">在廉桥镇计生办工作期间，当时由于计生队伍</tspan><tspan x="2252" dy="16.1">鱼龙混杂，临时工作人员素质不高，计生档案</tspan><tspan x="2252" dy="16.1">数据不全，底子不清，导致工作无法正常开展</tspan><tspan x="2252" dy="16.1">。受镇领导重托，由他牵头成立业务小组，专</tspan><tspan x="2252" dy="16.1">门对全镇所有的计生工作数据进行全面摸底造</tspan><tspan x="2252" dy="16.1">册，录入电脑。由于廉桥镇是我县第二大镇，</tspan><tspan x="2252" dy="16.1">常住人口八万多人，工作任务重、压力大，他</tspan><tspan x="2252" dy="16.1">带领组里工作人员白天走村入户了解情况，晚</tspan><tspan x="2252" dy="16.1">上整理数据，分类造册归档;经过两个月的日</tspan><tspan x="2252" dy="16.1">夜辛勤工作，终于将该镇的计生底子摸清，所</tspan><tspan x="2252" dy="16.1">有数据有档可查，各项资料清楚齐全。在全县</tspan><tspan x="2252" dy="16.1">计生系统业务大比拼中受到县计划生育局的表</tspan><tspan x="2252" dy="16.1">彰，并在全县范围推广。</tspan></text>
<line class="ul" x1="2245" y1="1577.9" x2="2507" y2="1577.9"/>
</g>
<g id="t3-s5">
<text class="t" x="2252" y="1622.8">在任黄陂桥乡工会主席以来，工作认真负责，</text>
<line class="ul" x1="2245" y1="1631.9" x2="2507" y2="1631.9"/>
</g>
<g id="t3-s6">
<text class="t" x="2252" y="1676.8"><tspan x="2252">对于上级安排的工作任务，总是提前完成。工</tspan><tspan x="2252" dy="16.1">会工作的重心工作就是工资集体协商，该同志</tspan><tspan x="2252" dy="16.1">到黄陂桥后，深入厂矿企业一线了解职工的需</tspan><tspan x="2252" dy="16.1">求，倾听职工的呼声，把工资集体协商工资做</tspan><tspan x="2252" dy="16.1">到双赢，劳资关系和谐稳定。2015年全县工</tspan><tspan x="2252" dy="16.1">资集体协商工资现场会在黄陂桥召开，黄陂桥</tspan><tspan x="2252" dy="16.1">工会得到了市县领导的高度评价，今年7月，</tspan><tspan x="2252" dy="16.1">湖南工人记者陈妙莎专题采访了我乡龙丰公司</tspan><tspan x="2252" dy="16.1">的工资协商工作，并在湖南工人报发表文章"</tspan><tspan x="2252" dy="16.1">用工资协商点亮企业"。</tspan></text>
<line class="ul" x1="2245" y1="1830.8" x2="2507" y2="1830.8"/>
</g>
<g id="t3-l3">
<text class="t" x="2042" y="2095.9">三、思想观念新，工作方法多</text>
<line class="ul" x1="2035" y1="2105" x2="2210" y2="2105"/>
</g>
<g id="t3-s7">
<text class="t" x="2240" y="1875.7"><tspan x="2240">该同志工作思路开阔，勇于创新，富有改革意</tspan><tspan x="2240" dy="16.1">识和开拓精神.在担任魏家桥政法办主任时期</tspan><tspan x="2240" dy="16.1">，基层矛盾重重，村民上访现象时有发生，他</tspan><tspan x="2240" dy="16.1">始终坚持"群众利益大小事"，工作注重深入一</tspan><tspan x="2240" dy="16.1">线，切实掌握上访户的一手资料，帮其解决生</tspan><tspan x="2240" dy="16.1">活中的困难，对其动之以情，晓之以理，最终</tspan><tspan x="2240" dy="16.1">将问题圆满解决。由于工作扎实，方法得当，</tspan><tspan x="2240" dy="16.1">2015年度获得"县信访工作先进个人"。</tspan></text>
<line class="ul" x1="2233" y1="1997.5" x2="2495" y2="1997.5"/>
</g>
<g id="t3-s8">
<text class="t" x="2240" y="2042.4"><tspan x="2240">在黄陂桥乡，该同志除了做好自己的本职工作</tspan><tspan x="2240" dy="16.1">外，还在新农村建设示范区负责房屋拆迁和土</tspan><tspan x="2240" dy="16.1">地报批工作，因思想观念新，工作方法新，工</tspan><tspan x="2240" dy="16.1">作成效十分突出。从去年动工以来，共计拆除</tspan><tspan x="2240" dy="16.1">房屋100多间，落实安置地108间，在拆迁过</tspan><tspan x="2240" dy="16.1">程中无一起强制拆迁，无一起矛盾上访，做到</tspan><tspan x="2240" dy="16.1">了依法拆迁，和谐拆迁。黄陂桥乡共计从省厅</tspan><tspan x="2240" dy="16.1">批回土地220亩，其中道路用地50亩，林业局</tspan><tspan x="2240" dy="16.1">棚户区改造35亩，怡宝水厂50亩，创业花园8</tspan><tspan x="2240" dy="16.1">5亩。今年三个项目260亩用地资料已经全部</tspan><tspan x="2240" dy="16.1">做好，并通过了县市预审。</tspan></text>
<line class="ul" x1="2233" y1="2212.5" x2="2495" y2="2212.5"/>
</g>
<g id="t3-l4">
<text class="t" x="2042" y="2601.2">四、廉洁自律，生活作风正</text>
<line class="ul" x1="2035" y1="2610.3" x2="2210" y2="2610.3"/>
</g>
<g id="t3-s9">
<text class="t" x="2240" y="2257.4"><tspan x="2240">该同志为人正直，品行高尚，作风清廉。在借</tspan><tspan x="2240" dy="16.1">调生态产业园工作期间，他始终谨记园区领导</tspan><tspan x="2240" dy="16.1">的要求："认认真真学习，勤勤恳恳做事，规</tspan><tspan x="2240" dy="16.1">规矩矩做人，圆圆满满交卷"。他在用地事务</tspan><tspan x="2240" dy="16.1">部主要负责园区内村民建房前置审查和违法建</tspan><tspan x="2240" dy="16.1">房的查处，在园区内村民建房管理要求严格，</tspan><tspan x="2240" dy="16.1">有很多不符合建房条件的人想找机会和他套近</tspan><tspan x="2240" dy="16.1">乎，他总是义正严辞的拒绝。余桥村一村民家</tspan><tspan x="2240" dy="16.1">中住户紧张，要求建房，在实地查看后，该村</tspan><tspan x="2240" dy="16.1">民担心批不了，就买烟送礼，结果遭到他的严</tspan><tspan x="2240" dy="16.1">厉批评，他说只要符合建房审批条件，就会批</tspan><tspan x="2240" dy="16.1">给你，不符合条件的，就坚决不能批。在工作</tspan><tspan x="2240" dy="16.1">中，他时刻不忘自己是_员，是农民的儿子，</tspan><tspan x="2240" dy="16.1">不忘为人民群众办实事，讲5廉洁、树正气。</tspan></text>
<line class="ul" x1="2233" y1="2475.8" x2="2495" y2="2475.8"/>
</g>
<g id="t3-s10">
<text class="t" x="2240" y="2520.7"><tspan x="2240">该同志任政法办主任期间，只身南下广东为群</tspan><tspan x="2240" dy="16.1">众讨要工薪，为因工受伤者讨要医药费，累计</tspan><tspan x="2240" dy="16.1">为人民群众讨回经济损失数十万元。为维护我</tspan><tspan x="2240" dy="16.1">镇的形象和稳定做出了贡献。可是他却从来不</tspan><tspan x="2240" dy="16.1">要群众一分钱，不抽群众一包烟。</tspan></text>
<line class="ul" x1="2233" y1="2594.2" x2="2495" y2="2594.2"/>
</g>
<g id="t3-s11">
<text class="t" x="2240" y="2639.1"><tspan x="2240">总之，该同志具有较强党性，为人厚道，诚实</tspan><tspan x="2240" dy="16.1">正派，敢于负责，勇挑重担，善于团结同志，</tspan><tspan x="2240" dy="16.1">搞好协调，不利于团结的话不讲，不利于团结</tspan><tspan x="2240" dy="16.1">的事不做，能大事讲原则，小事讲风格。对待</tspan><tspan x="2240" dy="16.1">得与失，能树立一颗平常心，无论组织分派何</tspan><tspan x="2240" dy="16.1">种工作，从不斤斤计较，乐于奉献，总是默默</tspan><tspan x="2240" dy="16.1">无闻，无怨无悔，尽职尽责抓好落实。</tspan></text>
<line class="ul" x1="2233" y1="2744.8" x2="2495" y2="2744.8"/>
</g>
<g id="t5">
<text class="ti" x="1478" y="3174.5">机关财务干部推荐材料范文 第五篇</text>
<line class="ul" x1="1471" y1="3186.5" x2="1729" y2="3186.5"/>
</g>
<g id="t5-1">
<text class="t" x="1758" y="2792.8"><tspan x="1758">严格要求自己，工作勤奋，爱岗敬业，办事沉</tspan><tspan x="1758" dy="16.1">稳，顾全大局，团结同志，以诚待人。</tspan></text>
<line class="ul" x1="1751" y1="2818" x2="2013" y2="2818"/>
</g>
<g id="t5-2">
<text class="t" x="1758" y="2862.9"><tspan x="1758">一是勤奋工作，爱岗敬业。正确认识自身的工</tspan><tspan x="1758" dy="16.1">作和价值，正确处理苦与乐、得与失、个人利</tspan><tspan x="1758" dy="16.1">益与集体利益以及工作与家庭的关系。</tspan></text>
<line class="ul" x1="1751" y1="2904.2" x2="2013" y2="2904.2"/>
</g>
<g id="t5-3">
<text class="t" x="1758" y="2949.1"><tspan x="1758">二是务实工作，业务过硬。经过不断学习和锻</tspan><tspan x="1758" dy="16.1">炼，在文字写作、组织协调和人际沟通能力上</tspan><tspan x="1758" dy="16.1">取得一定的进步，熟悉机构编制人事工作和综</tspan><tspan x="1758" dy="16.1">合办公室工作。近两年来，共草拟各类文件2</tspan><tspan x="1758" dy="16.1">00余份，撰写报告、领导讲话及部门年度工</tspan><tspan x="1758" dy="16.1">作总结等60余份，组织或协调会务10余次，</tspan><tspan x="1758" dy="16.1">能够圆满完成本单位的工作和与各市级财政部</tspan><tspan x="1758" dy="16.1">门及相关单位的对接工作，同时利用办公室资</tspan><tspan x="1758" dy="16.1">料传阅、校稿等工作，认真学习他人长处，并</tspan><tspan x="1758" dy="16.1">虚心向领导和同事请教，改进本人不足。</tspan></text>
<line class="ul" x1="1751" y1="3103.1" x2="2013" y2="3103.1"/>
</g>
<g id="t5-4">
<text class="t" x="1758" y="3148"><tspan x="1758">三是办事沉稳，严谨细致。财政工作有彼高的</tspan><tspan x="1758" dy="16.1">严肃柱和准确性，事关各机关单位的业务开展</tspan><tspan x="1758" dy="16.1">，对于印发的文件材料，每次都认真核稿和校</tspan><tspan x="1758" dy="16.1">对，保证了印发文件准确、及时。在办会、办</tspan><tspan x="1758" dy="16.1">事等其它工作中，始终坚持大处着眼、小处着</tspan><tspan x="1758" dy="16.1">手，认真把握工作细节，高质量完成各项工作</tspan><tspan x="1758" dy="16.1">任务。</tspan></text>
<line class="ul" x1="1751" y1="3253.7" x2="2013" y2="3253.7"/>
</g>
<g id="t5-5">
<text class="t" x="1758" y="3298.6"><tspan x="1758">四是深入基层，时刻不忘为民服务。对待来访</tspan><tspan x="1758" dy="16.1">的每一位同志都热心接待，不敷衍、不拖延。</tspan><tspan x="1758" dy="16.1">20**年，我有幸接到任务去亚布力核对财务</tspan><tspan x="1758" dy="16.1">工作，在亚布力工作三天，本人认真履职，急</tspan><tspan x="1758" dy="16.1">群众所急，想群众所想，积极宣传和贯彻执行</tspan><tspan x="1758" dy="16.1">上级的各项方针政策。改进地方工作五处，加</tspan><tspan x="1758" dy="16.1">快了以后在工作对接便利性及准确性。同时也</tspan><tspan x="1758" dy="16.1">了解到了地方工作的众多难处，与当地领导及</tspan><tspan x="1758" dy="16.1">同事们共同协商解决问题的方法。</tspan></text>
<line class="ul" x1="1751" y1="3436.5" x2="2013" y2="3436.5"/>
</g>
<g id="t5-6">
<text class="t" x="1758" y="3481.4"><tspan x="1758">五是爱上你是一个错有较强的创新精神和能力</tspan><tspan x="1758" dy="16.1">。在实际工作中积极健全管理机制、优化工作</tspan><tspan x="1758" dy="16.1">流程、采用先进技术方法，在思想观点上、工</tspan><tspan x="1758" dy="16.1">作思路上、业务技能上勇于创新，牢固树立创</tspan><tspan x="1758" dy="16.1">新精神和创新意识，掌握工作主动权。</tspan></text>
<line class="ul" x1="1751" y1="3554.9" x2="2013" y2="3554.9"/>
</g>
</svg>
